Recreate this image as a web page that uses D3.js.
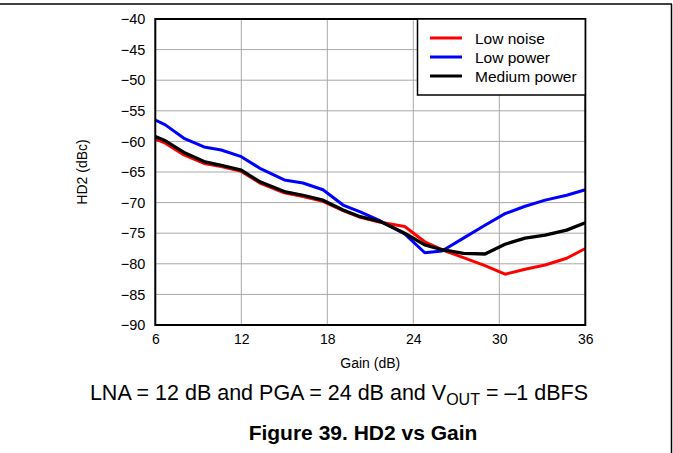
<!DOCTYPE html>
<html>
<head>
<meta charset="utf-8">
<script src="https://cdn.jsdelivr.net/npm/d3@7/dist/d3.min.js"></script>
<style>
  html, body { margin: 0; padding: 0; background: #fff; }
  svg { display: block; }
  text { font-family: "Liberation Sans", Arial, sans-serif; fill: #000; }
</style>
</head>
<body>
<svg id="chart" width="673" height="453"></svg>
<script>
// ---- Data ----
const gains = [6, 6.7, 8, 9.4, 10.6, 12, 13.3, 15, 16.3, 17.7, 19.1, 20.3, 21.7, 23.4, 24.8, 26, 27.5, 29, 30.4, 31.8, 33.2, 34.7, 36];
const lowNoise = [-59.6, -60.3, -62.2, -63.6, -64.1, -64.9, -66.8, -68.4, -69.0, -69.8, -71.3, -72.4, -73.2, -73.9, -76.4, -77.7, -79.0, -80.3, -81.7, -80.9, -80.2, -79.1, -77.5];
const lowPower = [-56.5, -57.3, -59.5, -60.9, -61.4, -62.5, -64.4, -66.3, -66.8, -67.9, -70.4, -71.5, -73.0, -75.1, -78.2, -77.9, -75.8, -73.7, -71.8, -70.6, -69.6, -68.8, -67.9];
const mediumPower = [-59.2, -59.9, -61.8, -63.3, -63.9, -64.7, -66.6, -68.2, -68.8, -69.6, -71.2, -72.3, -73.1, -75.0, -76.9, -77.7, -78.3, -78.4, -76.8, -75.8, -75.3, -74.5, -73.3];
const seriesNames = ["Low noise", "Low power", "Medium power"];
const seriesColors = ["#ff0000", "#0000ff", "#000000"];
const xTicks = [6, 12, 18, 24, 30, 36];
const yTicks = [-40, -45, -50, -55, -60, -65, -70, -75, -80, -85, -90];
const xLabel = "Gain (dB)";
const yLabel = "HD2 (dBc)";
const figureTitle = "Figure 39. HD2 vs Gain";

// ---- Layout ----
const svg = d3.select("#chart");
const L = 155.3, R = 585.3, T = 19, B = 325;
const x = d3.scaleLinear().domain([6, 36]).range([L, R]);
const y = d3.scaleLinear().domain([-90, -40]).range([B, T]);
const FONT = '"Liberation Sans", Arial, sans-serif';

// page frame
svg.append("line").attr("x1", 0).attr("x2", 672).attr("y1", 4).attr("y2", 4).attr("stroke", "#000").attr("stroke-width", 1.5);
svg.append("line").attr("x1", 671.5).attr("x2", 671.5).attr("y1", 4).attr("y2", 453).attr("stroke", "#000").attr("stroke-width", 1.5);

// grid
const grid = svg.append("g");
grid.selectAll(".gx").data(xTicks).enter().append("line")
  .attr("x1", d => x(d)).attr("x2", d => x(d)).attr("y1", T).attr("y2", B)
  .attr("stroke", "#a8a8a8").attr("stroke-width", 1);
grid.selectAll(".gy").data(yTicks).enter().append("line")
  .attr("x1", L).attr("x2", R).attr("y1", d => y(d)).attr("y2", d => y(d))
  .attr("stroke", "#a8a8a8").attr("stroke-width", 1);

// axes (labels via d3 axis)
const fmt = d => (d < 0 ? "\u2212" + Math.abs(d) : String(d));
const yAxis = svg.append("g").attr("transform", `translate(${L},0)`)
  .call(d3.axisLeft(y).tickValues(yTicks).tickFormat(fmt).tickSize(0).tickPadding(10));
yAxis.select(".domain").remove();
yAxis.selectAll("text").attr("font-size", 14.5).style("font-family", FONT);

const xAxis = svg.append("g").attr("transform", `translate(0,${B})`)
  .call(d3.axisBottom(x).tickValues(xTicks).tickFormat(d => String(d)).tickSize(0).tickPadding(9));
xAxis.select(".domain").remove();
xAxis.selectAll("text").attr("font-size", 14).style("font-family", FONT);

// series
const allSeries = [lowNoise, lowPower, mediumPower];
const line = d3.line().x((d, i) => x(gains[i])).y(d => y(d));
svg.append("defs").append("clipPath").attr("id", "clip")
  .append("rect").attr("x", L).attr("y", T).attr("width", R - L).attr("height", B - T);
const lines = svg.append("g").attr("clip-path", "url(#clip)");
allSeries.forEach((s, k) => {
  lines.append("path").datum(s).attr("d", line)
    .attr("fill", "none").attr("stroke", seriesColors[k])
    .attr("stroke-width", k === 2 ? 3.3 : 3).attr("stroke-linejoin", "round");
});

// plot frame
svg.append("rect").attr("x", L).attr("y", T).attr("width", R - L).attr("height", B - T)
  .attr("fill", "none").attr("stroke", "#000").attr("stroke-width", 2);

// legend
const lg = svg.append("g");
lg.append("rect").attr("x", 417.5).attr("y", T).attr("width", R - 417.5).attr("height", 76)
  .attr("fill", "#fff").attr("stroke", "#000").attr("stroke-width", 1.5);
seriesNames.forEach((n, k) => {
  const yy = 38 + k * 19;
  lg.append("line").attr("x1", 430).attr("x2", 462).attr("y1", yy).attr("y2", yy)
    .attr("stroke", seriesColors[k]).attr("stroke-width", 3);
  lg.append("text").attr("x", 475).attr("y", yy + 6).attr("font-size", 15.5).text(n);
});

// axis titles
svg.append("text").attr("x", (L + R) / 2).attr("y", 368).attr("text-anchor", "middle")
  .attr("font-size", 14).text(xLabel);
svg.append("text").attr("transform", `translate(87,${(T + B) / 2}) rotate(-90)`)
  .attr("text-anchor", "middle").attr("font-size", 14).text(yLabel);

// caption
const cap = svg.append("text").attr("x", 339).attr("y", 400).attr("text-anchor", "middle").attr("font-size", 21.5);
cap.append("tspan").text("LNA = 12 dB and PGA = 24 dB and V");
cap.append("tspan").attr("font-size", 16).attr("dy", 5).text("OUT");
cap.append("tspan").attr("dy", -5).text(" = \u20131 dBFS");

svg.append("text").attr("x", 363).attr("y", 440).attr("text-anchor", "middle")
  .attr("font-size", 21).attr("font-weight", "bold").text(figureTitle);
</script>
</body>
</html>
